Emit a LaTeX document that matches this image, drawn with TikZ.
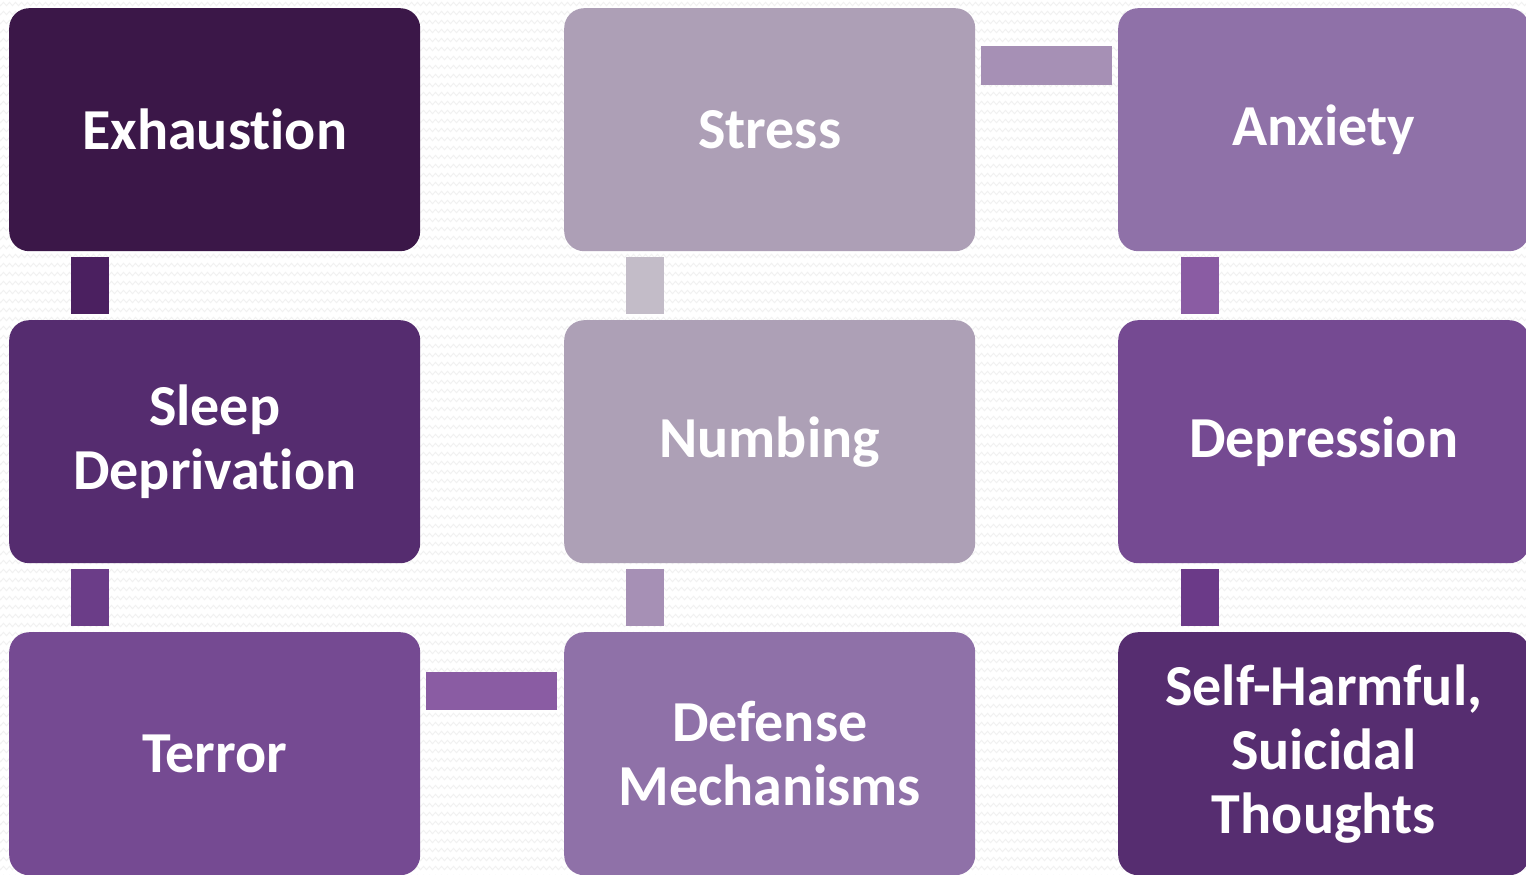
\documentclass[tikz,border=0pt]{standalone}
\usepackage{fontspec}
\setmainfont[RawFeature={-liga}]{Carlito}
\usetikzlibrary{decorations.pathmorphing}

% box fills
\definecolor{cExhaust}{HTML}{3B1748}
\definecolor{cSleep}{HTML}{552C6F}
\definecolor{cTerror}{HTML}{754A92}
\definecolor{cStress}{HTML}{AD9FB6}
\definecolor{cNumb}{HTML}{ADA0B6}
\definecolor{cDefense}{HTML}{8F71A8}
\definecolor{cAnxiety}{HTML}{8F71A8}
\definecolor{cDepress}{HTML}{754A92}
\definecolor{cSelf}{HTML}{562D70}
% connector fills
\definecolor{kA}{HTML}{4B2060}
\definecolor{kB}{HTML}{6B3D88}
\definecolor{kC}{HTML}{C3BCC8}
\definecolor{kD}{HTML}{A690B5}
\definecolor{kE}{HTML}{8A5CA3}
\definecolor{kF}{HTML}{6B3A88}
\definecolor{bgline}{HTML}{F1F1F1}

\tikzset{
  tile/.style={rectangle, rounded corners=20pt, anchor=north west,
    minimum width=411pt, minimum height=243pt, inner sep=0pt,
    text=white, align=center,
    font=\fontsize{58}{64}\selectfont\bfseries},
  link/.style={line width=38pt},
  bgzig/.style={bgline, line width=1pt, decorate,
    decoration={zigzag, segment length=6pt, amplitude=1.6pt}},
}

\begin{document}
\begin{tikzpicture}[x=1pt, y=-1pt]
  \useasboundingbox (0,0) rectangle (1526,875);
  \begin{scope}
    \clip (0,0) rectangle (1526,875);
    \fill[white] (0,0) rectangle (1526,875);
    % faint zigzag texture of the backdrop
    \foreach \yy in {4,13,...,880} {
      \draw[bgzig] (-4,\yy) -- (1530,\yy);
    }

    % column 1
    \node[tile, fill=cExhaust] (exh) at (9,8) {Exhaustion};
    \node[tile, fill=cSleep] (sleep) at (9,320) {Sleep\\Deprivation};
    \node[tile, fill=cTerror] (terror) at (9,632) {Terror};
    % column 2
    \node[tile, fill=cStress] (stress) at (564,8) {Stress};
    \node[tile, fill=cNumb] (numb) at (564,320) {Numbing};
    \node[tile, fill=cDefense] (def) at (564,632) {Defense\\Mechanisms};
    % column 3
    \node[tile, fill=cAnxiety] (anx) at (1118,8) {Anxiety};
    \node[tile, fill=cDepress] (dep) at (1118,320) {Depression};
    \node[tile, fill=cSelf] (self) at (1118,632) {Self-Harmful,\\Suicidal\\Thoughts};

    % vertical links
    \draw[link, kA] ([xshift=81pt, yshift=-6pt]exh.south west) -- ([xshift=81pt, yshift=6pt]sleep.north west);
    \draw[link, kB] ([xshift=81pt, yshift=-6pt]sleep.south west) -- ([xshift=81pt, yshift=6pt]terror.north west);
    \draw[link, kC] ([xshift=81pt, yshift=-6pt]stress.south west) -- ([xshift=81pt, yshift=6pt]numb.north west);
    \draw[link, kD] ([xshift=81pt, yshift=-6pt]numb.south west) -- ([xshift=81pt, yshift=6pt]def.north west);
    \draw[link, kE] ([xshift=82pt, yshift=-6pt]anx.south west) -- ([xshift=82pt, yshift=6pt]dep.north west);
    \draw[link, kF] ([xshift=82pt, yshift=-6pt]dep.south west) -- ([xshift=82pt, yshift=6pt]self.north west);
    % horizontal links
    \draw[link, kD] ([xshift=6pt, yshift=-57.5pt]stress.north east) -- ([xshift=-6pt, yshift=-57.5pt]anx.north west);
    \draw[link, kE] ([xshift=6pt, yshift=-58.5pt]terror.north east) -- ([xshift=-7pt, yshift=-58.5pt]def.north west);
  \end{scope}
\end{tikzpicture}
\end{document}
